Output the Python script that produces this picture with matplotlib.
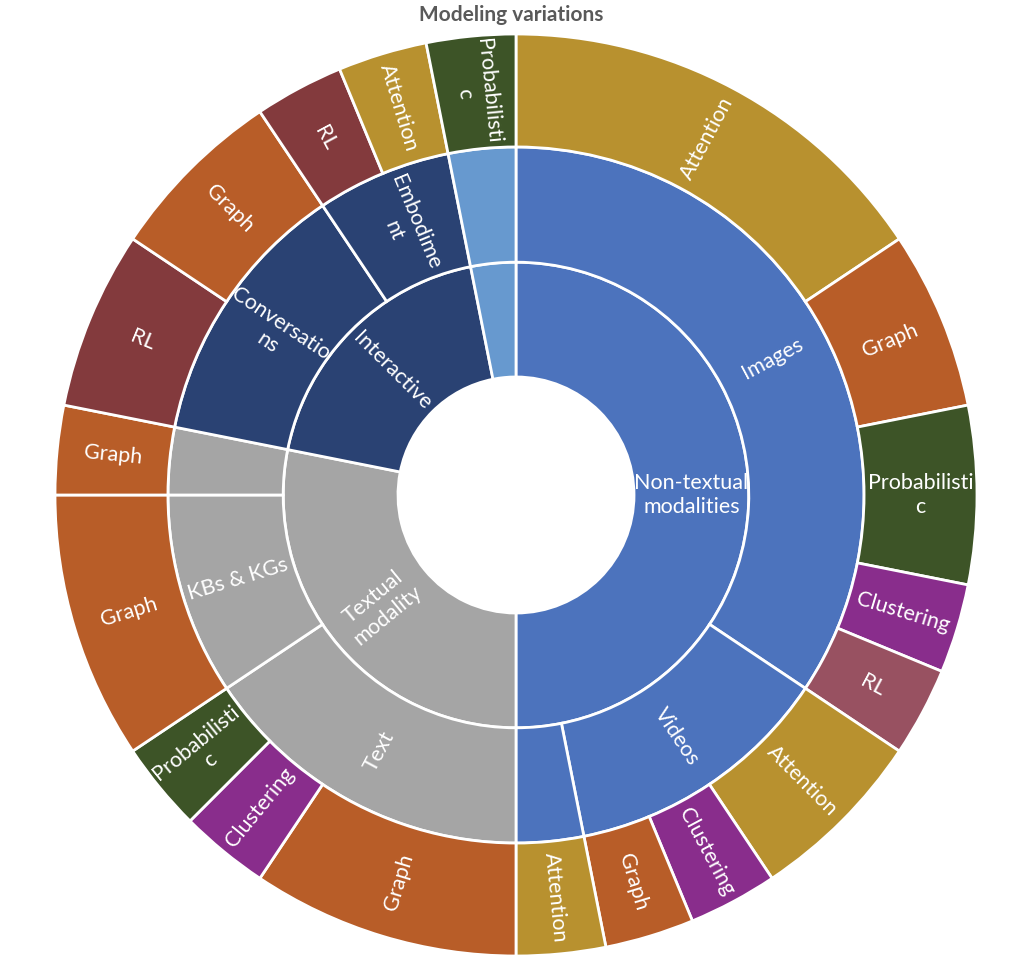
import numpy as np
import matplotlib
matplotlib.use("Agg")
import matplotlib.pyplot as plt

plt.rcParams['font.family'] = ['Lato', 'DejaVu Sans']

# inner ring
level1_labels = ["Non-textual\nmodalities", "Textual\nmodality", "Interactive", ""]
level1_values = [16, 9, 6, 1]
level1_colors = ["#4C73BD", "#A5A5A5", "#2A4273", "#6799CF"]

# middle ring
level2_labels = ["Images", "Videos", "", "Text", "KBs & KGs", "",
                 "Conversatio\nns", "Embodime\nnt", ""]
level2_values = [11, 4, 1, 5, 3, 1, 4, 2, 1]
level2_colors = ["#4C73BD", "#4C73BD", "#4C73BD", "#A5A5A5", "#A5A5A5", "#A5A5A5",
                 "#2A4273", "#2A4273", "#6799CF"]

# outer ring
leaf_labels = ["Attention", "Graph", "Probabilisti\nc", "Clustering", "RL",
               "Attention", "Clustering", "Graph",
               "Attention",
               "Graph", "Clustering", "Probabilisti\nc",
               "Graph",
               "Graph",
               "RL", "Graph",
               "RL", "Attention",
               "Probabilisti\nc"]
leaf_values = [5, 2, 2, 1, 1,
               2, 1, 1,
               1,
               3, 1, 1,
               3,
               1,
               2, 2,
               1, 1,
               1]

cat_colors = {
    "Attention": "#B8912F",
    "Graph": "#B85D28",
    "Probabilisti\nc": "#3D5427",
    "Clustering": "#892D8C",
    "RL": "#833A3D",
}
leaf_colors = [cat_colors[l] for l in leaf_labels]
leaf_colors[4] = "#985161"  # RL under Images is lighter

r0, r1, r2, r3 = 0.256, 0.505, 0.755, 1.0

fig = plt.figure(figsize=(10.17, 9.69), dpi=100)
ax = fig.add_axes([55 / 1017, 13 / 969, 922 / 1017, 922 / 969])

rings = [
    (level1_values, level1_labels, level1_colors, r0, r1),
    (level2_values, level2_labels, level2_colors, r1, r2),
    (leaf_values, leaf_labels, leaf_colors, r2, r3),
]

for values, labels, colors, rin, rout in rings:
    ax.pie(values, radius=rout, colors=colors, startangle=90, counterclock=False,
           wedgeprops=dict(width=rout - rin, edgecolor="white", linewidth=2))
    total = float(sum(values))
    cum = np.cumsum([0] + list(values))
    rmid = (rin + rout) / 2
    for i, lab in enumerate(labels):
        if not lab:
            continue
        theta = (cum[i] + values[i] / 2) / total * 360  # clockwise from top
        x = rmid * np.sin(np.radians(theta))
        y = rmid * np.cos(np.radians(theta))
        if theta <= 180:
            rot = 90 - theta
        else:
            rot = 270 - theta
        ax.text(x, y, lab, rotation=rot, rotation_mode="anchor",
                ha="center", va="center", multialignment="center",
                color="white", fontsize=15.5, linespacing=1.2)

ax.set_xlim(-1, 1)
ax.set_ylim(-1, 1)
ax.set_aspect("equal")
ax.axis("off")

fig.text(0.5025, 1 - 15 / 969, "Modeling variations", ha="center", va="center",
         fontsize=15, fontweight="bold", color="#595959")

fig.savefig("out.png", dpi=100, facecolor="white")
